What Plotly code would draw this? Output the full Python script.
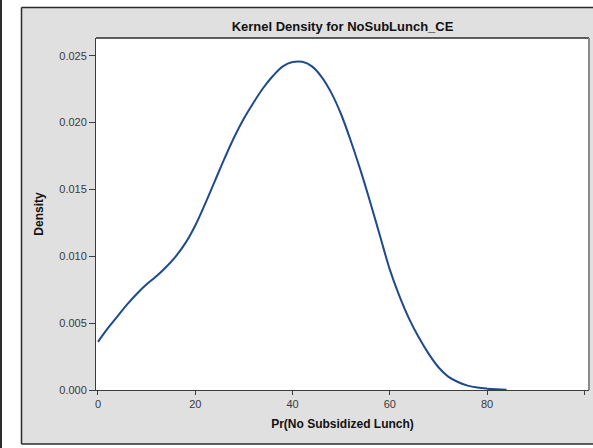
import plotly.graph_objects as go

# ---- data ----
x_vals = [0, 2, 4, 6, 8, 10, 12, 14, 16, 18, 20, 22, 24, 26, 28, 30, 32, 34, 36, 38,
          40, 42, 44, 46, 48, 50, 52, 54, 56, 58, 60, 62, 64, 66, 68, 70, 72, 74,
          76, 78, 80, 82, 84]
density = [0.0036, 0.0046, 0.0055, 0.0064, 0.0072, 0.0079, 0.0085, 0.0092, 0.0100, 0.0110,
           0.0123, 0.0139, 0.0156, 0.0173, 0.0189, 0.0203, 0.0215, 0.0226, 0.0235, 0.0242,
           0.02452, 0.02454, 0.0242, 0.0234, 0.0222, 0.0206, 0.0186, 0.0164, 0.0140, 0.0115,
           0.0090, 0.0070, 0.0053, 0.0039, 0.0027, 0.0017, 0.0010, 0.0006,
           0.00033, 0.00018, 0.0001, 0.00005, 0.00002]

x_ticks = [0, 20, 40, 60, 80, 100]
y_ticks = [0.000, 0.005, 0.010, 0.015, 0.020, 0.025]

title_text = "Kernel Density for NoSubLunch_CE"
x_title = "Pr(No Subsidized Lunch)"
y_title = "Density"

# ---- layout geometry (pixels) ----
W, H = 593, 448
L, R, T, B = 96, 4, 38, 58
PW, PH = W - L - R, H - T - B


def px(x):
    return (x - L) / PW


def py(y):
    return (H - B - y) / PH


FONT = "Liberation Sans, Arial, sans-serif"
GREY = "#e0e0e0"
DARK = "#2b2b2b"

fig = go.Figure()
fig.add_trace(go.Scatter(
    x=x_vals, y=density, mode="lines",
    line=dict(color="#1f4a8c", width=2, shape="spline", smoothing=1.0),
    hoverinfo="skip", showlegend=False,
))

shapes = []
# white area outside the grey frame
for (x0, x1, y0, y1) in [(-10, 21, -10, 460), (-10, 700, -10, 7), (-10, 700, 444, 460)]:
    shapes.append(dict(type="rect", xref="paper", yref="paper",
                       x0=px(x0), x1=px(x1), y0=py(y0), y1=py(y1),
                       fillcolor="white", line=dict(width=0), layer="above"))
# frame lines
shapes.append(dict(type="line", xref="paper", yref="paper",
                   x0=px(1), x1=px(1), y0=py(0), y1=py(448), line=dict(color=DARK, width=2), layer="above"))
shapes.append(dict(type="line", xref="paper", yref="paper",
                   x0=px(21.5), x1=px(600), y0=py(7.5), y1=py(7.5), line=dict(color=DARK, width=1.5), layer="above"))
shapes.append(dict(type="line", xref="paper", yref="paper",
                   x0=px(21.5), x1=px(21.5), y0=py(7.5), y1=py(444), line=dict(color=DARK, width=1.5), layer="above"))
shapes.append(dict(type="line", xref="paper", yref="paper",
                   x0=px(21.5), x1=px(600), y0=py(444), y1=py(444), line=dict(color=DARK, width=1.5), layer="above"))
# plot-area top and right borders
shapes.append(dict(type="line", xref="paper", yref="paper",
                   x0=0, x1=1, y0=1, y1=1, line=dict(color=DARK, width=1.5), layer="above"))
shapes.append(dict(type="line", xref="paper", yref="paper",
                   x0=1, x1=1, y0=0, y1=1, line=dict(color="#8a8a8a", width=2), layer="above"))

fig.update_layout(
    width=W, height=H,
    margin=dict(l=L, r=R, t=T, b=B, pad=0),
    paper_bgcolor=GREY, plot_bgcolor="white",
    font=dict(family=FONT, size=11, color="#333333"),
    title=dict(text=title_text, xref="container", x=(L + PW / 2) / W, xanchor="center",
               y=1 - 26 / H, yanchor="middle",
               font=dict(family=FONT, size=13, color="#111111", weight="bold")),
    xaxis=dict(range=[-0.41, 100.95], tickvals=x_ticks, ticktext=[str(v) for v in x_ticks],
               showgrid=False, zeroline=False, showline=True, linecolor="#3c3c3c", linewidth=1,
               ticks="outside", ticklen=4, tickcolor="#3c3c3c", tickwidth=1,
               tickfont=dict(family=FONT, size=11, color="#3a3a3a"),
               title=dict(text=x_title, standoff=10,
                          font=dict(family=FONT, size=12, color="#111111", weight="bold"))),
    yaxis=dict(range=[0, 0.02632], tickvals=y_ticks, tickformat=".3f",
               showgrid=False, zeroline=False, showline=True, linecolor="#3c3c3c", linewidth=1,
               ticks="outside", ticklen=6, tickcolor="#3c3c3c", tickwidth=1,
               tickfont=dict(family=FONT, size=11, color="#3a3a3a"),
               title=dict(text=y_title, standoff=13,
                          font=dict(family=FONT, size=12, color="#111111", weight="bold"))),
    shapes=shapes,
)

fig.write_html("out.html")
